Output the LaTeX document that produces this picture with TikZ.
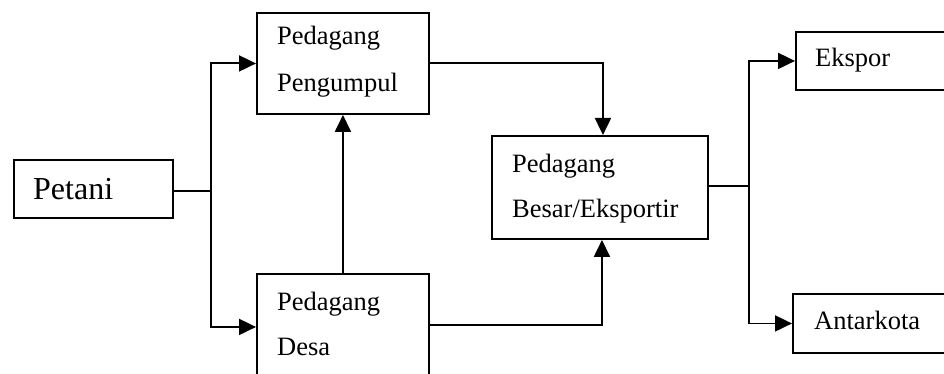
\documentclass[tikz,border=0pt]{standalone}
\usepackage{fontspec}
\setmainfont{Liberation Serif}
\usetikzlibrary{arrows.meta}
\begin{document}
\begin{tikzpicture}[x=1pt,y=-1pt,
  box/.style={draw,line width=1.9pt,inner sep=0pt,anchor=north west},
  conn/.style={line width=1.9pt},
  arr/.style={line width=1.9pt,-{Triangle[length=17pt,width=16pt]}},
  txt/.style={anchor=base west,inner sep=0pt,font=\fontsize{26.5}{30}\selectfont},
  bigtxt/.style={anchor=base west,inner sep=0pt,font=\fontsize{32}{36}\selectfont}]
\useasboundingbox (0,0) rectangle (944,374);
\clip (0,0) rectangle (944,374);
\fill[white] (0,0) rectangle (944,374);
% boxes
\node[box,minimum width=159pt,minimum height=58pt] (petani) at (13,159) {};
\node[box,minimum width=172pt,minimum height=101pt] (pengumpul) at (256,12) {};
\node[box,minimum width=172pt,minimum height=106pt] (desa) at (256,273) {};
\node[box,minimum width=216pt,minimum height=103pt] (besar) at (491,135) {};
\node[box,minimum width=170pt,minimum height=58pt] (ekspor) at (795,31) {};
\node[box,minimum width=173pt,minimum height=59pt] (antarkota) at (792,293) {};
% texts
\node[bigtxt] (tpetani) at (33,199) {Petani};
\node[txt] (tpg1) at (277,45) {Pedagang};
\node[txt] (tpg2) at (277,92) {Pengumpul};
\node[txt] (tds1) at (277,310) {Pedagang};
\node[txt] (tds2) at (277,355) {Desa};
\node[txt] (tbs1) at (512,172) {Pedagang};
\node[txt] (tbs2) at (512,217) {Besar/Eksportir};
\node[txt] (tek) at (815,67) {Ekspor};
\node[txt] (tak) at (814,329) {Antarkota};
% junctions
\coordinate (t1) at (211,191);
\coordinate (t2) at (749,186);
% connectors
\draw[conn] (petani.east |- t1) -- (t1);
\draw[arr] (t1) |- (pengumpul.west);
\draw[arr] (t1) |- (desa.west);
\draw[arr] (desa.north) -- (pengumpul.south);
\draw[arr] (pengumpul.east) -| ([xshift=3pt]besar.north);
\draw[arr] (desa.east |- 0,325) -| ([xshift=2pt]besar.south);
\draw[conn] (besar.east |- t2) -- (t2);
\draw[arr] (t2) |- (ekspor.west);
\draw[arr] (t2) |- (antarkota.west);
\end{tikzpicture}
\end{document}
